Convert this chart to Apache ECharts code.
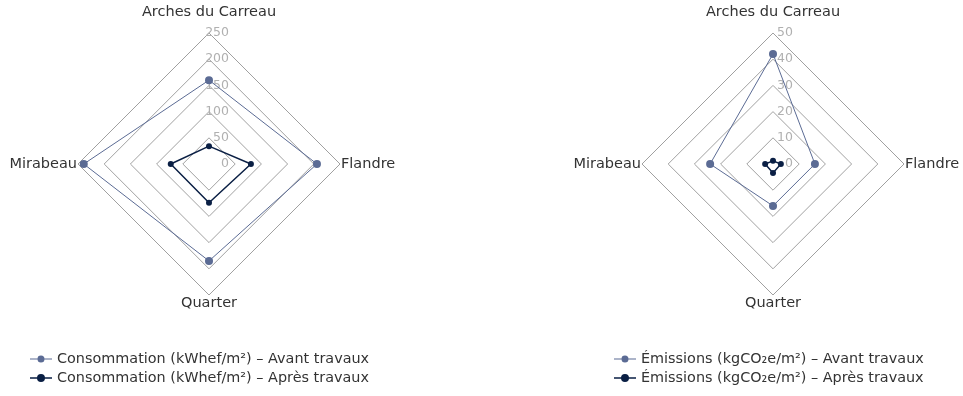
<!DOCTYPE html>
<html>
<head>
<meta charset="utf-8">
<script src="https://cdn.jsdelivr.net/npm/echarts@6/dist/echarts.min.js"></script>
<style>
  html, body { margin: 0; padding: 0; background: #fff; }
  #chart { width: 963px; height: 396px; }
</style>
</head>
<body>
<div id="chart"></div>
<script>
// indicateurs (sites), ordre anti-horaire à partir du haut
const sites = ['Arches du Carreau', 'Mirabeau', 'Quarter', 'Flandre'];

// consommation kWhef/m²
const consoAvant = [160, 239, 185, 206];
const consoApres = [34, 73, 74, 80];

// émissions kgCO2e/m²
const emisAvant = [42, 24, 16, 16];
const emisApres = [1.2, 3, 3.4, 3];

const consoMax = 250;
const emisMax = 50;

const colAvant = '#5b6b94';
const colApres = '#0a1f44';
const font = 'DejaVu Sans';

// icône de légende : trait + point
const iconThin = 'path://M0,3.5h22v1H0z M11,0.5a3.5,3.5 0 1,1 -0.001,0z';
const iconThick = 'path://M0,3.25h22v1.5H0z M11,0a4,4 0 1,1 -0.001,0z';

function radarCfg(cx, max) {
  return {
    center: [cx, 164],
    radius: 131,
    shape: 'polygon',
    splitNumber: 5,
    startAngle: 90,
    indicator: sites.map((s, i) => ({
      name: s, min: 0, max: max,
      axisLabel: { show: i === 0 }
    })),
    axisName: {
      color: '#333', fontSize: 14.5, fontFamily: font,
      formatter: function (n) {
        return n === sites[0] ? '{t|' + n + '}' : n;
      },
      rich: {
        t: { color: '#333', fontSize: 14.5, fontFamily: font, padding: [0, 0, 12, 0] }
      }
    },
    nameGap: 1,
    axisLine: { show: false },
    axisTick: { show: false },
    axisLabel: {
      show: false,
      color: '#b0b0b0',
      fontSize: 12.5,
      fontFamily: font,
      margin: -20
    },
    splitLine: { lineStyle: { color: '#a0a0a0', width: 1 } },
    splitArea: { show: false }
  };
}

function serie(name, radarIndex, data, color, size, width) {
  return {
    type: 'radar',
    name: name,
    radarIndex: radarIndex,
    symbol: 'circle',
    symbolSize: size,
    lineStyle: { color: color, width: width },
    itemStyle: { color: color },
    data: [{ value: data, name: name }]
  };
}

const names = [
  'Consommation (kWhef/m²) – Avant travaux',
  'Consommation (kWhef/m²) – Après travaux',
  'Émissions (kgCO₂e/m²) – Avant travaux',
  'Émissions (kgCO₂e/m²) – Après travaux'
];

const legendBase = {
  orient: 'vertical',
  top: 347,
  itemWidth: 22, itemHeight: 8, itemGap: 5,
  textStyle: { color: '#333', fontSize: 14.4, fontFamily: font }
};

const chart = echarts.init(document.getElementById('chart'));
chart.setOption({
  animation: false,
  legend: [
    Object.assign({}, legendBase, {
      left: 25,
      data: [
        { name: names[0], icon: iconThin },
        { name: names[1], icon: iconThick }
      ]
    }),
    Object.assign({}, legendBase, {
      left: 609,
      data: [
        { name: names[2], icon: iconThin },
        { name: names[3], icon: iconThick }
      ]
    })
  ],
  radar: [radarCfg(209, consoMax), radarCfg(773, emisMax)],
  series: [
    serie(names[0], 0, consoAvant, colAvant, 8, 1),
    serie(names[1], 0, consoApres, colApres, 6, 1.5),
    serie(names[2], 1, emisAvant, colAvant, 8, 1),
    serie(names[3], 1, emisApres, colApres, 6, 1.5)
  ]
});
</script>
</body>
</html>
